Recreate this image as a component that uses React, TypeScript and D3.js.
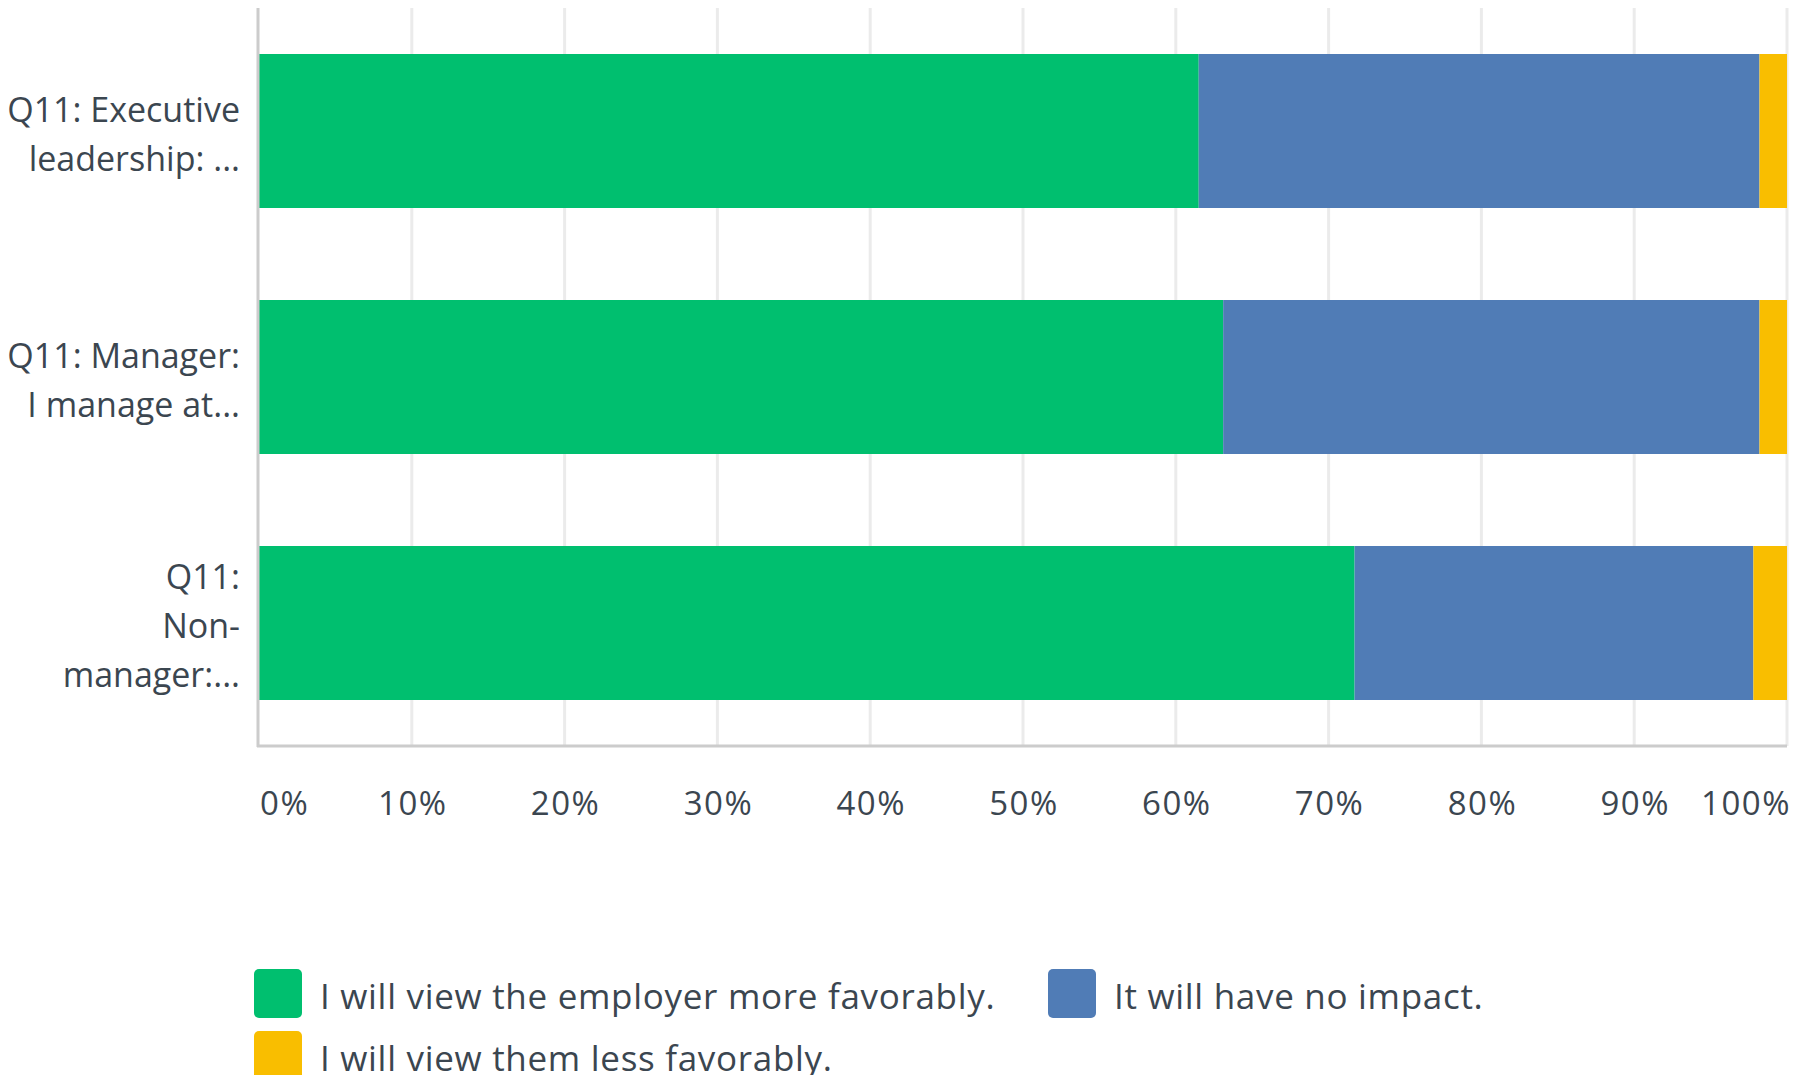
import React from "react";
import * as d3 from "d3";

const categories: string[][] = [
  ["Q11: Executive", "leadership: ..."],
  ["Q11: Manager:", "I manage at..."],
  ["Q11:", "Non-", "manager:..."],
];
const seriesNames = [
  "I will view the employer more favorably.",
  "It will have no impact.",
  "I will view them less favorably.",
];
const seriesColors = ["#00bf6f", "#507cb6", "#f9be00"];
const moreFavorably = [61.5, 63.1, 71.7];
const noImpact = [36.7, 35.1, 26.1];
const lessFavorably = [1.8, 1.8, 2.2];
const ticks = [0, 10, 20, 30, 40, 50, 60, 70, 80, 90, 100];

const W = 1808;
const H = 1075;
const FONT = "'Open Sans', 'DejaVu Sans', sans-serif";
const TEXT = "#3b4650";

export default function App() {
  const x = d3.scaleLinear().domain([0, 100]).range([259, 1787]);
  const idx = categories.map((_, i) => String(i));
  const y = d3
    .scaleBand<string>()
    .domain(idx)
    .range([8, 746])
    .paddingInner(0.374)
    .paddingOuter(0.187);

  const rows = categories.map((_, i) => ({
    more: moreFavorably[i],
    none: noImpact[i],
    less: lessFavorably[i],
  }));
  const stack = d3.stack<any>().keys(["more", "none", "less"]);
  const layers = stack(rows);

  return (
    <svg
      width={W}
      height={H}
      style={{ position: "absolute", left: 0, top: 0, display: "block", background: "#fff" }}
    >
      {/* gridlines */}
      {ticks.slice(1).map((t) => (
        <line key={t} x1={x(t)} x2={x(t)} y1={8} y2={746} stroke="#ebebeb" strokeWidth={3} />
      ))}
      {/* bars */}
      {layers.map((layer, li) => (
        <g key={li} fill={seriesColors[li]}>
          {layer.map((d, i) => (
            <rect
              key={i}
              x={x(d[0])}
              width={x(d[1]) - x(d[0])}
              y={y(String(i))}
              height={y.bandwidth()}
            />
          ))}
        </g>
      ))}
      {/* axes */}
      <line x1={258} x2={258} y1={8} y2={747} stroke="#cccccc" strokeWidth={3} />
      <line x1={257} x2={x(100)} y1={746} y2={746} stroke="#cccccc" strokeWidth={3} />
      {/* x tick labels */}
      {ticks.map((t, i) => {
        const anchor = i === 0 ? "start" : i === ticks.length - 1 ? "end" : "middle";
        const px = i === 0 ? x(t) + 1 : i === ticks.length - 1 ? x(t) + 4 : x(t) + 1;
        return (
          <text
            key={t}
            x={px}
            y={815}
            textAnchor={anchor}
            fontFamily={FONT}
            fontSize={33}
            letterSpacing={1.5}
            fill={TEXT}
          >
            {t}%
          </text>
        );
      })}
      {/* y labels */}
      {categories.map((lines, i) => {
        const cy = (y(String(i)) as number) + y.bandwidth() / 2;
        const lh = 49;
        const first = cy - ((lines.length - 1) * lh) / 2 + 15;
        return (
          <text key={i} textAnchor="end" fontFamily={FONT} fontSize={34} fill={TEXT}>
            {lines.map((l, j) => (
              <tspan key={j} x={240} y={first + j * lh}>
                {l}
              </tspan>
            ))}
          </text>
        );
      })}
      {/* legend */}
      {[
        { s: 0, sx: 254, ty: 1009 },
        { s: 1, sx: 1048, ty: 1009 },
        { s: 2, sx: 254, ty: 1071 },
      ].map(({ s, sx, ty }) => (
        <g key={s}>
          <rect x={sx} y={ty - 40} width={48} height={49} rx={5} fill={seriesColors[s]} />
          <text
            x={sx + 66}
            y={ty}
            fontFamily={FONT}
            fontSize={35}
            letterSpacing={0.7}
            fill={TEXT}
          >
            {seriesNames[s]}
          </text>
        </g>
      ))}
    </svg>
  );
}
